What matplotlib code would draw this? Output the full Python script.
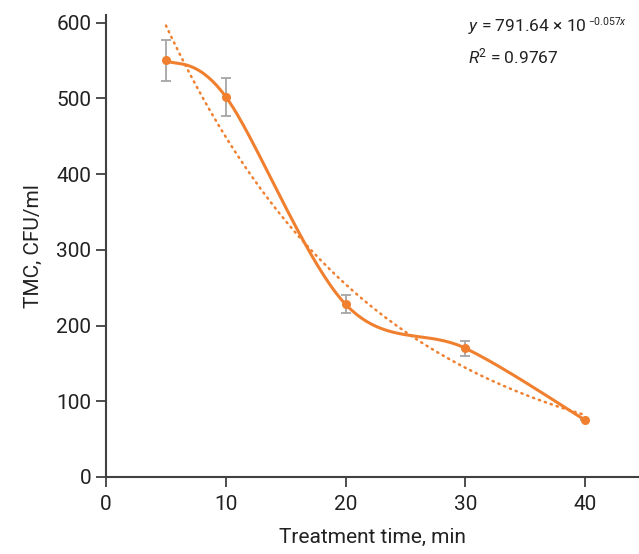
import numpy as np
import matplotlib
matplotlib.use('Agg')
import matplotlib.pyplot as plt

# data
time_min = [5, 10, 20, 30, 40]
tmc = [550, 502, 228, 170, 75]
tmc_err = [27, 25, 12, 10, 0]
eq_base = r'$y$ = 791.64 × 10'
eq_exp = r'$\mathregular{-0.057}\mathit{x}$'
r2_text = r'$R$$^{\mathregular{2}}$ = 0.9767'

orange = '#F0802F'
grey = '#A6A6A6'
axcol = '#404040'

plt.rcParams['font.family'] = ['Roboto', 'DejaVu Sans']
plt.rcParams['mathtext.fontset'] = 'custom'
plt.rcParams['mathtext.rm'] = 'Roboto'
plt.rcParams['mathtext.it'] = 'Roboto:italic'


def smooth_curve(x, y, n=40):
    # catmull-rom style bezier, like a spreadsheet "smoothed line"
    x = np.asarray(x, float)
    y = np.asarray(y, float)
    px = np.concatenate([[x[0]], x, [x[-1]]])
    py = np.concatenate([[y[0]], y, [y[-1]]])
    xs, ys = [], []
    t = np.linspace(0, 1, n)
    for i in range(1, len(px) - 2):
        p0 = np.array([px[i], py[i]])
        p3 = np.array([px[i + 1], py[i + 1]])
        p1 = p0 + (np.array([px[i + 1], py[i + 1]]) - np.array([px[i - 1], py[i - 1]])) / 6
        p2 = p3 - (np.array([px[i + 2], py[i + 2]]) - np.array([px[i], py[i]])) / 6
        b = ((1 - t) ** 3)[:, None] * p0 + (3 * (1 - t) ** 2 * t)[:, None] * p1 \
            + (3 * (1 - t) * t ** 2)[:, None] * p2 + (t ** 3)[:, None] * p3
        xs.extend(b[:, 0])
        ys.extend(b[:, 1])
    return xs, ys


fig = plt.figure(figsize=(6.39, 5.54), dpi=100)
ax = fig.add_axes([0.166, 0.139, 0.834, 0.834])

# exponential trend line fitted on the points
k, lnA = np.polyfit(time_min, np.log(tmc), 1)
xt = np.linspace(time_min[0], time_min[-1], 200)
ax.plot(xt, np.exp(lnA) * np.exp(k * xt), color=orange, lw=1.8,
        linestyle=(0, (0.5, 2.0)), dash_capstyle='round', zorder=2)

sx, sy = smooth_curve(time_min, tmc)
ax.plot(sx, sy, color=orange, lw=2.2, zorder=3)
ax.errorbar(time_min, tmc, yerr=tmc_err, fmt='none', ecolor=grey, elinewidth=1.3,
            capsize=3.5, capthick=1.3, zorder=2.5)
ax.plot(time_min, tmc, 'o', color=orange, ms=5.5, zorder=4)

ax.set_xlim(0, 44.5)
ax.set_ylim(0, 610)
ax.set_xticks([0, 10, 20, 30, 40])
ax.set_yticks([0, 100, 200, 300, 400, 500, 600])
ax.spines['top'].set_visible(False)
ax.spines['right'].set_visible(False)
for s in ['left', 'bottom']:
    ax.spines[s].set_color(axcol)
    ax.spines[s].set_linewidth(1.5)
ax.tick_params(colors=axcol, width=1.3, length=7, labelsize=15, labelcolor='#222222')
ax.tick_params(axis='x', pad=6)
ax.set_xlabel('Treatment time, min', fontsize=15, color='#222222', labelpad=10)
ax.set_ylabel('TMC, CFU/ml', fontsize=15, color='#222222', labelpad=10)

t1 = ax.text(0.68, 0.975, eq_base, transform=ax.transAxes, fontsize=12.5,
             color='#222222', va='center')
ax.annotate(eq_exp, xy=(1.0, 0.78), xycoords=t1, xytext=(0.5, 0), textcoords='offset points',
            fontsize=7.5, color='#222222', va='center', ha='left')
ax.text(0.68, 0.91, r2_text, transform=ax.transAxes, fontsize=12.5, color='#222222', va='center')

fig.savefig('out.png', dpi=100)
